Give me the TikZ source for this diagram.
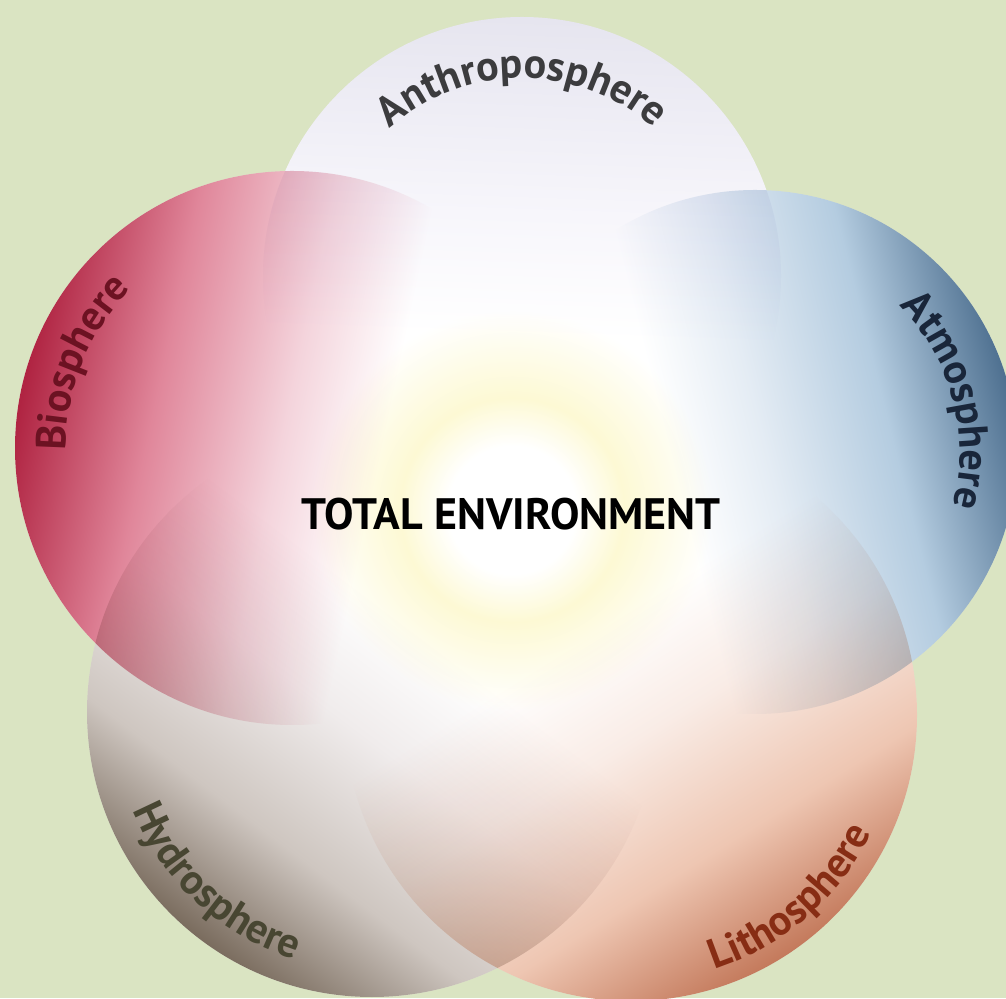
\documentclass[tikz,border=0pt]{standalone}
\usepackage{fontspec}
\newfontfamily\ptsans{PT Sans}
\usetikzlibrary{decorations.text}
\definecolor{bggreen}{RGB}{218,228,194}
% anthroposphere
\definecolor{anB}{RGB}{247,246,251}
\definecolor{anC}{RGB}{238,237,245}
\definecolor{anD}{RGB}{230,229,239}
% biosphere
\definecolor{biB}{RGB}{244,212,220}
\definecolor{biC}{RGB}{224,134,154}
\definecolor{biD}{RGB}{176,36,66}
% atmosphere
\definecolor{atB}{RGB}{228,236,244}
\definecolor{atC}{RGB}{180,204,224}
\definecolor{atD}{RGB}{78,112,144}
% hydrosphere
\definecolor{hyB}{RGB}{240,236,236}
\definecolor{hyC}{RGB}{206,198,192}
\definecolor{hyD}{RGB}{122,108,94}
% lithosphere
\definecolor{liB}{RGB}{249,236,230}
\definecolor{liC}{RGB}{238,198,178}
\definecolor{liD}{RGB}{196,122,92}
\definecolor{glowY}{RGB}{253,249,212}
\definecolor{anText}{RGB}{60,60,62}
\definecolor{biText}{RGB}{108,18,34}
\definecolor{atText}{RGB}{25,38,58}
\definecolor{hyText}{RGB}{72,70,50}
\definecolor{liText}{RGB}{135,45,20}
\pgfdeclareverticalshading{anshade}{100bp}{color(0bp)=(white); color(25bp)=(white); color(44bp)=(white); color(56bp)=(anB); color(66bp)=(anC); color(75bp)=(anD); color(100bp)=(anD)}
\pgfdeclareverticalshading{bishade}{100bp}{color(0bp)=(white); color(25bp)=(white); color(42bp)=(white); color(51bp)=(biB); color(63bp)=(biC); color(75bp)=(biD); color(100bp)=(biD)}
\pgfdeclareverticalshading{atshade}{100bp}{color(0bp)=(white); color(25bp)=(white); color(42bp)=(white); color(51bp)=(atB); color(63bp)=(atC); color(75bp)=(atD); color(100bp)=(atD)}
\pgfdeclareverticalshading{hyshade}{100bp}{color(0bp)=(white); color(25bp)=(white); color(42bp)=(white); color(52bp)=(hyB); color(64bp)=(hyC); color(75bp)=(hyD); color(100bp)=(hyD)}
\pgfdeclareverticalshading{lishade}{100bp}{color(0bp)=(white); color(25bp)=(white); color(42bp)=(white); color(52bp)=(liB); color(64bp)=(liC); color(75bp)=(liD); color(100bp)=(liD)}
\pgfdeclareradialshading{glowshade}{\pgfpoint{0bp}{0bp}}{color(0bp)=(white); color(8bp)=(white); color(14bp)=(glowY); color(25bp)=(white); color(50bp)=(white)}
\newcommand\lblf{\ptsans\bfseries\fontsize{42}{46}\selectfont}
\tikzset{
  sphlabel/.style={decorate, decoration={text along path, text align=center, text color=#1}},
}
\begin{document}
\begin{tikzpicture}[x=1pt,y=1pt]
\useasboundingbox (0,0) rectangle (1006,998);
\clip (0,0) rectangle (1006,998);
\fill[bggreen] (0,0) rectangle (1006,998);
% centres of the five spheres
\coordinate (cA) at (522,722);
\coordinate (cB) at (292,550);
\coordinate (cT) at (755,546);
\coordinate (cH) at (372,286);
\coordinate (cL) at (631,283);
\coordinate (cG) at (512,488);
% white base
\fill[white] (cA) circle[radius=259pt];
\fill[white] (cB) circle[radius=277pt];
\fill[white] (cT) circle[radius=262pt];
\fill[white] (cH) circle[radius=285pt];
\fill[white] (cL) circle[radius=286pt];
\begin{scope}[blend mode=multiply]
\shade[shading=anshade, shading angle=-2] (cA) circle[radius=259pt];
\shade[shading=bishade, shading angle=78] (cB) circle[radius=277pt];
\shade[shading=atshade, shading angle=-76] (cT) circle[radius=262pt];
\shade[shading=hyshade, shading angle=143] (cH) circle[radius=285pt];
\shade[shading=lishade, shading angle=212] (cL) circle[radius=286pt];
\shade[shading=glowshade] (cG) circle[radius=200pt];
\end{scope}
% labels
\path[sphlabel=anText, decoration={text={|\lblf|Anthroposphere}}]
  ([shift={(cA)}]145:198pt) arc[start angle=145, end angle=35, radius=198pt];
\path[sphlabel=biText, decoration={text={|\lblf|Biosphere}}]
  ([shift={(cB)}]205:226pt) arc[start angle=205, end angle=111, radius=226pt];
\path[sphlabel=atText, decoration={text={|\lblf|Atmosphere}}]
  ([shift={(cT)}]65:205pt) arc[start angle=65, end angle=-35, radius=205pt];
\path[sphlabel=hyText, decoration={text={|\lblf|Hydrosphere}}]
  ([shift={(cH)}]175:259pt) arc[start angle=175, end angle=280, radius=259pt];
\path[sphlabel=liText, decoration={text={|\lblf|Lithosphere}}]
  ([shift={(cL)}]260:268pt) arc[start angle=260, end angle=362, radius=268pt];
\node[font=\ptsans\bfseries\fontsize{44}{48}\selectfont, text=black] (total) at (511,484) {TOTAL ENVIRONMENT};
\end{tikzpicture}
\end{document}
